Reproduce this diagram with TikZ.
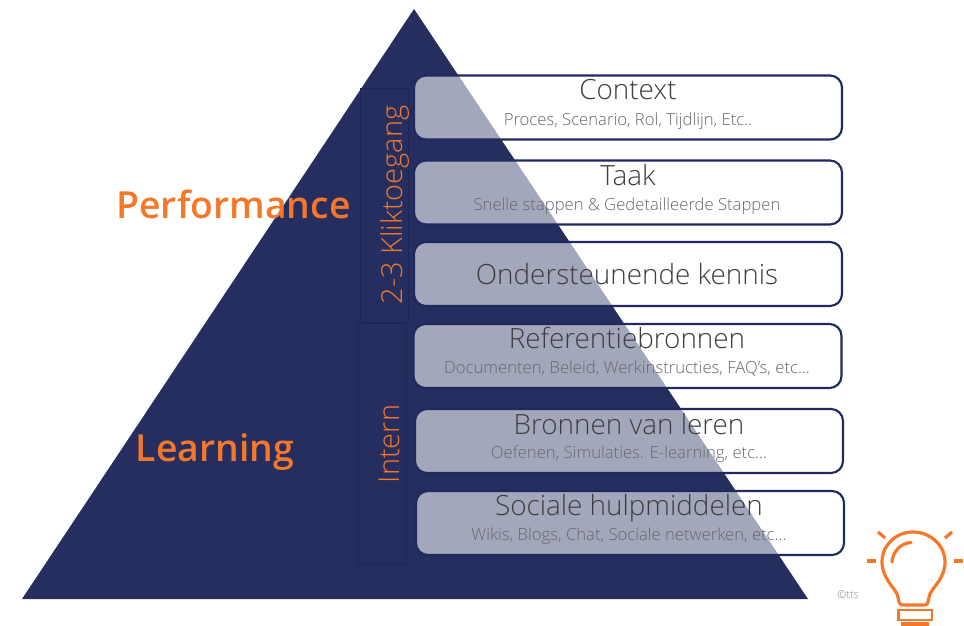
\documentclass[tikz,border=0pt]{standalone}
\usepackage{fontspec}
\setmainfont{Open Sans Light}[BoldFont={Open Sans Semibold}]
\definecolor{navy}{HTML}{252E5F}
\definecolor{edgeblue}{HTML}{1F2A5E}
\definecolor{sideline}{HTML}{1C2656}
\definecolor{orangeA}{HTML}{F5782A}
\definecolor{titlegrey}{HTML}{3E3E42}
\definecolor{subgrey}{HTML}{66666C}
\tikzset{
  itembox/.style={draw=edgeblue,line width=1.6pt,fill=white,fill opacity=.58,rounded corners=9pt,minimum width=321pt,minimum height=48pt,inner sep=0pt},
  sidebox/.style={draw=sideline,line width=.6pt,fill=navy,inner sep=0pt},
  titletext/.style={text=titlegrey,font=\fontsize{20.9}{24}\selectfont,inner sep=0pt,anchor=center},
  subtext/.style={text=subgrey,font=\fontsize{12.5}{15}\selectfont,inner sep=0pt,anchor=center},
  sidetext/.style={text=orangeA,font=\fontsize{21.7}{26}\selectfont,rotate=90,inner sep=0pt,anchor=center},
  bigtext/.style={text=orangeA,font=\fontsize{28}{33}\selectfont\bfseries,inner sep=0pt,anchor=center},
  bulb/.style={draw=orangeA,line width=2.4pt,line cap=butt,line join=round},
  bulbbase/.style={draw=orangeA,line width=1.9pt}
}
\begin{document}
\begin{tikzpicture}[x=.75pt,y=-.75pt]
\useasboundingbox (0,0) rectangle (964,625);
\fill[navy] (414,9) -- (808,599) -- (22,599) -- cycle;
\node[sidebox,minimum width=36pt,minimum height=175.5pt] (klik) at (384,205) {};
\node[sidebox,minimum width=36pt,minimum height=180.75pt] (intern) at (382,443.5) {};
\node[sidetext] (kliktext) at (394.5,205) {2-3 Kliktoegang};
\node[sidetext] (interntext) at (389,444) {Intern};
\node[bigtext] (perf) at (233.5,204) {Performance};
\node[bigtext] (learn) at (215,452) {Learning};

\node[itembox] (b1) at (628,107.5) {};
\node[itembox] (b2) at (628,192.5) {};
\node[itembox] (b3) at (628,274) {};
\node[itembox] (b4) at (627.5,356) {};
\node[itembox] (b5) at (629,441) {};
\node[itembox] (b6) at (630,523) {};

\node[titletext] (t1) at (628,90) {Context};
\node[subtext] (s1) at (628,121) {Proces, Scenario, Rol, Tijdlijn, Etc..};
\node[titletext] (t2) at (628,175) {Taak};
\node[subtext] (s2) at (627,206) {Snelle stappen \& Gedetailleerde Stappen};
\node[titletext] (t3) at (627,274) {Ondersteunende kennis};
\node[titletext] (t4) at (627,338) {Referentiebronnen};
\node[subtext] (s4) at (627,369) {Documenten, Beleid, Werkinstructies, FAQ’s, etc...};
\node[titletext] (t5) at (629,424) {Bronnen van leren};
\node[subtext] (s5) at (629,454) {Oefenen, Simulaties. E-learning, etc...};
\node[titletext] (t6) at (629,508) {Sociale hulpmiddelen};
\node[subtext] (s6) at (629,536) {Wikis, Blogs, Chat, Sociale netwerken, etc...};

\node[text=black!45,font=\fontsize{8.2}{10}\selectfont,inner sep=0pt] (copy) at (848,594.5) {©tts};

% light bulb
\draw[bulb] (902,605) .. controls (898,605) and (899,598) .. (897,594)
  .. controls (894,587) and (882,578) .. (882,562)
  .. controls (882,545) and (896,532) .. (913,532)
  .. controls (930,532) and (945,545) .. (945,562)
  .. controls (945,578) and (933,587) .. (930,594)
  .. controls (928,598) and (929,605) .. (925,605) -- cycle;
\draw[bulb,line cap=round] (892,562) .. controls (893,551) and (901,543) .. (911,542.5);
\draw[bulbbase] (898.5,610) rectangle (932,620);
\draw[bulb] (901,624) -- (929,624);
\draw[bulb] (867,561) -- (876,561);
\draw[bulb] (954,561) -- (963,561);
\draw[bulb] (878,532) -- (885,538);
\draw[bulb] (952,532) -- (945,538);
\end{tikzpicture}
\end{document}
